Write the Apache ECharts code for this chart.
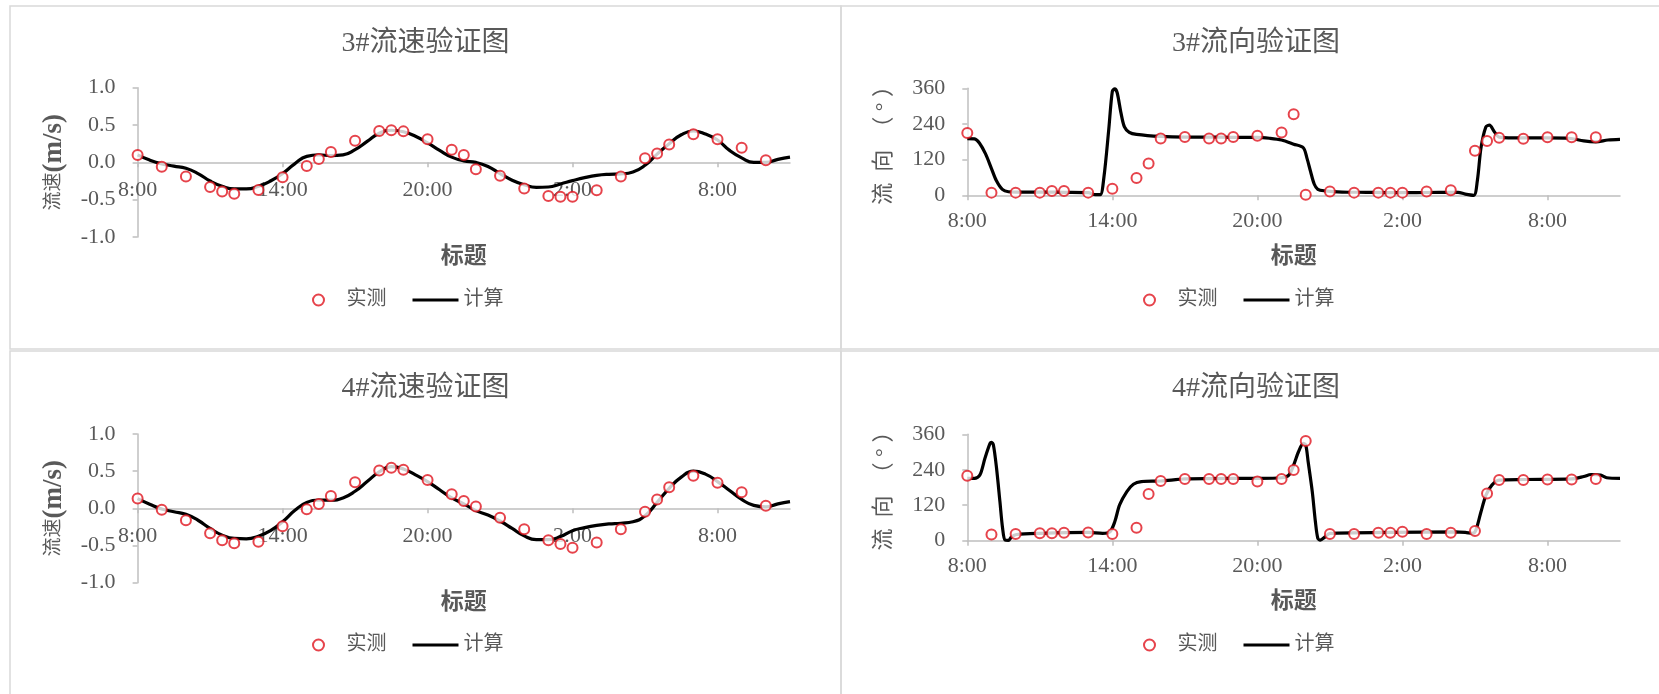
<!DOCTYPE html>
<html>
<head>
<meta charset="utf-8">
<script src="https://cdn.jsdelivr.net/npm/echarts@6/dist/echarts.min.js"></script>
<style>
  html, body { margin: 0; padding: 0; background: #fff; }
  #chart { width: 1659px; height: 694px; }
</style>
</head>
<body>
<div id="chart"></div>
<script>
// Time axis: hours elapsed since 8:00 on the first day
const xTickHours = [0, 6, 12, 18, 24];
const xTickLabels = ['8:00', '14:00', '20:00', '2:00', '8:00'];

// Measured (实测) sampling times
const obsHours = [0, 1, 2, 3, 3.5, 4, 5, 6, 7, 7.5, 8, 9, 10, 10.5, 11, 12, 13, 13.5, 14, 15, 16, 17, 17.5, 18, 19, 20, 21, 21.5, 22, 23, 24, 25, 26];

// Station 3 measurements
const obsSpeed3 = [0.10, -0.06, -0.19, -0.33, -0.39, -0.42, -0.37, -0.20, -0.05, 0.045, 0.14, 0.29, 0.42, 0.43, 0.415, 0.31, 0.17, 0.10, -0.094, -0.18, -0.35, -0.45, -0.46, -0.46, -0.375, -0.19, 0.054, 0.12, 0.24, 0.375, 0.31, 0.196, 0.027];
const obsDir3 = [210, 9, 9, 9, 14.6, 14.6, 9, 22, 58, 107, 191, 196, 191, 191, 196, 200, 211, 273, 2, 13, 9, 9, 9, 9, 13, 17, 150, 183, 194, 190, 195, 195, 195];

// Station 4 measurements
const obsSpeed4 = [0.134, -0.02, -0.16, -0.335, -0.43, -0.47, -0.45, -0.24, -0.013, 0.06, 0.165, 0.35, 0.51, 0.545, 0.52, 0.38, 0.19, 0.10, 0.025, -0.125, -0.28, -0.43, -0.48, -0.53, -0.46, -0.28, -0.045, 0.12, 0.285, 0.44, 0.345, 0.215, 0.036];
const obsDir4 = [220, 21, 23, 25, 25, 27, 28, 23, 44, 158, 202, 209, 209, 209, 209, 200, 209, 239, 337, 23, 23, 27, 27, 30, 23, 27, 33, 160, 205, 205, 207, 207, 209];

// Model output (计算): speed, half-hourly
const calcSpeedHours = [0, 0.5, 1, 1.5, 2, 2.5, 3, 3.5, 4, 4.5, 5, 5.5, 6, 6.5, 7, 7.5, 8, 8.5, 9, 9.5, 10, 10.5, 11, 11.5, 12, 12.5, 13, 13.5, 14, 14.5, 15, 15.5, 16, 16.5, 17, 17.5, 18, 18.5, 19, 19.5, 20, 20.5, 21, 21.5, 22, 22.5, 23, 23.5, 24, 24.5, 25, 25.5, 26, 26.5, 27];
const calcSpeed3 = [0.10, 0.03, -0.02, -0.05, -0.08, -0.15, -0.25, -0.32, -0.355, -0.355, -0.32, -0.25, -0.15, -0.02, 0.08, 0.10, 0.09, 0.10, 0.17, 0.28, 0.39, 0.43, 0.41, 0.35, 0.26, 0.16, 0.07, 0.02, 0.0, -0.055, -0.15, -0.24, -0.30, -0.335, -0.33, -0.29, -0.245, -0.205, -0.175, -0.16, -0.155, -0.13, -0.04, 0.11, 0.25, 0.37, 0.42, 0.38, 0.30, 0.16, 0.06, 0.0, 0.0, 0.04, 0.07];
const calcSpeed4 = [0.13, 0.055, -0.01, -0.045, -0.08, -0.16, -0.27, -0.36, -0.405, -0.41, -0.375, -0.30, -0.18, -0.03, 0.08, 0.11, 0.11, 0.14, 0.23, 0.36, 0.49, 0.56, 0.53, 0.45, 0.36, 0.25, 0.14, 0.06, -0.03, -0.09, -0.17, -0.27, -0.37, -0.42, -0.42, -0.38, -0.30, -0.26, -0.23, -0.21, -0.20, -0.18, -0.10, 0.08, 0.27, 0.42, 0.50, 0.46, 0.36, 0.24, 0.12, 0.04, 0.02, 0.06, 0.09];

// Model output (计算): direction, denser around the fast turns
const calcDirHours3 = [0, 0.3, 0.5, 0.75, 1.0, 1.2, 1.45, 1.7, 2, 3, 4, 5, 5.3, 5.5, 5.65, 5.85, 6.0, 6.1, 6.2, 6.35, 6.5, 6.7, 7, 8, 9, 10, 11, 12, 12.5, 13, 13.5, 13.9, 14.05, 14.2, 14.35, 14.5, 14.8, 15.5, 16.5, 17.5, 18.5, 19.5, 20.3, 20.6, 20.95, 21.1, 21.25, 21.45, 21.6, 21.8, 22, 23, 24, 24.9, 25.5, 26, 26.5, 27];
const calcDir3 = [191, 190, 176, 140, 90, 50, 20, 12, 11, 11, 10, 9, 2, 2, 60, 220, 350, 358, 345, 280, 230, 212, 205, 198, 196, 196, 195, 195, 192, 186, 172, 160, 125, 80, 38, 20, 15, 11, 10, 9, 9, 10, 10, 4, 0, 50, 160, 230, 236, 214, 196, 193, 193, 192, 183, 180, 186, 188];
const calcDirHours4 = [0, 0.3, 0.52, 0.73, 0.94, 1.0, 1.08, 1.21, 1.35, 1.46, 1.56, 1.7, 1.83, 2.04, 3, 5, 5.6, 5.9, 6.1, 6.3, 6.6, 6.87, 7.2, 8, 9, 11, 12.1, 13, 13.3, 13.5, 13.7, 13.9, 14.0, 14.1, 14.27, 14.4, 14.5, 14.6, 14.8, 15.0, 17.45, 20.2, 20.6, 20.9, 21.04, 21.25, 21.46, 21.7, 22.0, 23, 25, 25.5, 25.8, 26.2, 26.45, 27];
const calcDir4 = [211, 211, 222, 279, 329, 333, 324, 245, 132, 42, 2, 1, 13, 21, 25, 28, 25, 30, 64, 121, 166, 191, 200, 202, 209, 211, 211, 213, 222, 256, 301, 329, 324, 267, 166, 64, 8, 2, 13, 25, 28, 30, 28, 25, 36, 98, 155, 188, 205, 207, 209, 217, 224, 222, 213, 211];

const FONT = '"Liberation Serif", "Noto Sans CJK SC", serif';
const GRAY = '#595959';
const AXIS = '#bfbfbf';
const RED = '#e0141e';

const zip = (xs, ys) => xs.map((x, i) => [x, ys[i]]);

const panels = [
  { title: '3#流速验证图', kind: 'speed', box: [10, 6, 831, 343],
    grid: { left: 137.6, top: 87.7, width: 652.4, height: 149.3 },
    obs: obsSpeed3, calcX: calcSpeedHours, calcY: calcSpeed3,
    titleX: 425.6, titleY: 30, legendX: 312, legendY: 290 },
  { title: '3#流向验证图', kind: 'dir', box: [841, 6, 830, 343],
    grid: { left: 967.3, top: 88.3, width: 652.7, height: 107 },
    obs: obsDir3, calcX: calcDirHours3, calcY: calcDir3,
    titleX: 1256, titleY: 30, legendX: 1143, legendY: 290 },
  { title: '4#流速验证图', kind: 'speed', box: [10, 351, 831, 360],
    grid: { left: 137.6, top: 434, width: 652.4, height: 148.7 },
    obs: obsSpeed4, calcX: calcSpeedHours, calcY: calcSpeed4,
    titleX: 425.6, titleY: 375, legendX: 312, legendY: 635 },
  { title: '4#流向验证图', kind: 'dir', box: [841, 351, 830, 360],
    grid: { left: 967.3, top: 434.3, width: 652.7, height: 106.4 },
    obs: obsDir4, calcX: calcDirHours4, calcY: calcDir4,
    titleX: 1256, titleY: 375, legendX: 1143, legendY: 635 }
];

// thin bar used as the legend glyph of the model curve
const LINE_ICON = 'path://M0 0H46V3H0Z';

const option = {
  backgroundColor: '#fff',
  animation: false,
  title: [], legend: [], grid: [], xAxis: [], yAxis: [], series: [],
  graphic: []
};

panels.forEach((p, i) => {
  const speed = p.kind === 'speed';
  option.graphic.push({
    type: 'rect', silent: true, z: -10,
    shape: { x: p.box[0], y: p.box[1], width: p.box[2], height: p.box[3] },
    style: { fill: 'none', stroke: '#d9d9d9', lineWidth: 1.5 }
  });
  option.title.push({
    text: p.title, left: p.titleX, top: p.titleY, textAlign: 'center', padding: 0,
    textStyle: { fontFamily: FONT, fontSize: 28, fontWeight: 'normal', color: GRAY }
  });
  option.legend.push({
    left: p.legendX, top: p.legendY, padding: 0,
    itemWidth: 46, itemHeight: 11, itemGap: 26,
    data: [
      { name: '实测' },
      { name: '计算', icon: LINE_ICON, itemStyle: { color: '#000' } }
    ],
    textStyle: { fontFamily: FONT, fontSize: 20, color: GRAY }
  });
  option.grid.push(Object.assign({ containLabel: false, outerBoundsMode: 'none' }, p.grid));
  option.xAxis.push({
    type: 'value', gridIndex: i, min: 0, max: 27,
    // speed panels: the time axis sits on the 0 m/s line, labels included
    offset: speed ? -p.grid.height / 2 : 0,
    name: '标题', nameLocation: 'middle', nameGap: speed ? 83 : 50,
    nameTextStyle: { fontFamily: FONT, fontSize: 23, fontWeight: 'bold', color: GRAY },
    axisLine: { show: true, onZero: false, lineStyle: { color: AXIS, width: 1.5 } },
    axisTick: { show: true, length: 5, customValues: xTickHours, lineStyle: { color: AXIS, width: 1.5 } },
    axisLabel: {
      customValues: xTickHours, margin: speed ? 17 : 15,
      fontFamily: FONT, fontSize: 22, color: GRAY,
      formatter: v => { const k = xTickHours.indexOf(v); return k < 0 ? '' : xTickLabels[k]; }
    },
    splitLine: { show: false }
  });
  option.yAxis.push({
    type: 'value', gridIndex: i,
    min: speed ? -1 : 0, max: speed ? 1 : 360, interval: speed ? 0.5 : 120,
    name: speed ? '流速{b|(m/s)}' : '流  向  （ ° ）',
    nameLocation: 'middle', nameRotate: 90, nameGap: speed ? 70 : 72,
    nameTextStyle: {
      fontFamily: FONT, fontSize: speed ? 19 : 22, color: GRAY,
      padding: speed ? 0 : [0, 0, 0, 4],
      rich: { b: { fontFamily: FONT, fontSize: 27, fontWeight: 'bold', color: GRAY } }
    },
    axisLine: { show: true, lineStyle: { color: AXIS, width: 1.5 } },
    axisTick: { show: true, length: 5, lineStyle: { color: AXIS, width: 1.5 } },
    axisLabel: {
      margin: 22, fontFamily: FONT, fontSize: 22, color: GRAY,
      formatter: v => speed ? v.toFixed(1) : String(v)
    },
    splitLine: { show: false }
  });
  option.series.push({
    name: '计算', type: 'line', xAxisIndex: i, yAxisIndex: i,
    data: zip(p.calcX, p.calcY), smooth: speed ? 0.5 : 0.3,
    symbol: 'none', z: 2,
    itemStyle: { color: '#000' },
    lineStyle: { color: '#000', width: 3.2 }
  });
  option.series.push({
    name: '实测', type: 'scatter', xAxisIndex: i, yAxisIndex: i,
    data: zip(obsHours, p.obs), symbol: 'emptyCircle', symbolSize: 10, z: 3,
    itemStyle: { color: RED, borderColor: RED, borderWidth: 2.2 }
  });
});

const chart = echarts.init(document.getElementById('chart'), null, { renderer: 'canvas' });
chart.setOption(option);
</script>
</body>
</html>
